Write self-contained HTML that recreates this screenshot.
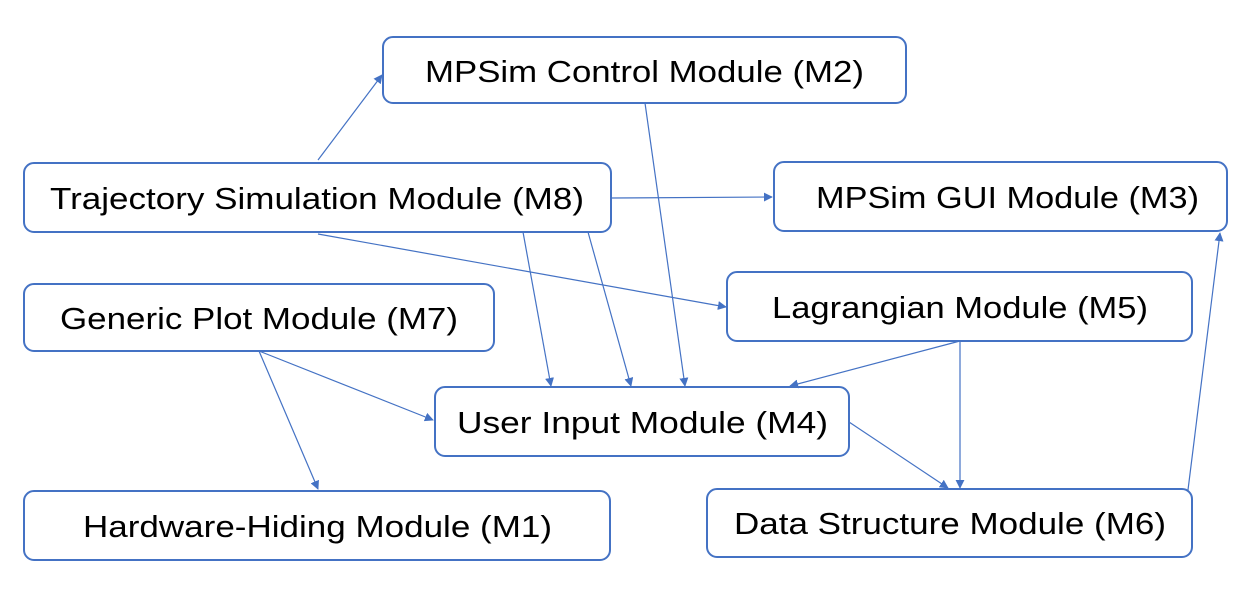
<!DOCTYPE html>
<html><head><meta charset="utf-8"><style>
html,body{margin:0;padding:0;background:#fff;}
svg{display:block;}
text{font-family:"Liberation Sans",sans-serif;font-size:31px;fill:#000;}
</style></head><body>
<svg width="1256" height="595" viewBox="0 0 1256 595" xmlns="http://www.w3.org/2000/svg">
<defs>
<marker id="a" viewBox="0 0 10 10" refX="9" refY="5" markerWidth="9" markerHeight="9" orient="auto" markerUnits="userSpaceOnUse">
<path d="M0,0 L10,5 L0,10 z" fill="#4472C4"/>
</marker>
</defs>
<g fill="#fff" stroke="#4472C4" stroke-width="2">
<rect x="383" y="37" width="523" height="66" rx="10"/>
<rect x="24" y="163" width="587" height="69" rx="10"/>
<rect x="774" y="162" width="453" height="69" rx="10"/>
<rect x="24" y="284" width="470" height="67" rx="10"/>
<rect x="727" y="272" width="465" height="69" rx="10"/>
<rect x="435" y="387" width="414" height="69" rx="10"/>
<rect x="24" y="491" width="586" height="69" rx="10"/>
<rect x="707" y="489" width="485" height="68" rx="10"/>
</g>
<g stroke="#4472C4" stroke-width="1.2" fill="none" marker-end="url(#a)">
<line x1="318" y1="160" x2="382" y2="75"/>
<line x1="611" y1="198" x2="772" y2="197"/>
<line x1="318" y1="234" x2="726" y2="307"/>
<line x1="523" y1="232" x2="551" y2="386"/>
<line x1="588" y1="232" x2="631" y2="386"/>
<line x1="645" y1="103" x2="685" y2="386"/>
<line x1="259" y1="351" x2="318" y2="489"/>
<line x1="259" y1="351" x2="433" y2="420"/>
<line x1="960" y1="341" x2="790" y2="386"/>
<line x1="960" y1="341" x2="960" y2="488"/>
<line x1="849" y1="422" x2="948" y2="488"/>
<line x1="1188" y1="490" x2="1220" y2="233"/>
</g>
<g lengthAdjust="spacingAndGlyphs">
<text x="425" y="82" textLength="439" lengthAdjust="spacingAndGlyphs">MPSim Control Module (M2)</text>
<text x="50" y="209" textLength="534" lengthAdjust="spacingAndGlyphs">Trajectory Simulation Module (M8)</text>
<text x="816" y="208" textLength="383" lengthAdjust="spacingAndGlyphs">MPSim GUI Module (M3)</text>
<text x="60" y="329" textLength="398" lengthAdjust="spacingAndGlyphs">Generic Plot Module (M7)</text>
<text x="772" y="318" textLength="376" lengthAdjust="spacingAndGlyphs">Lagrangian Module (M5)</text>
<text x="457" y="433" textLength="371" lengthAdjust="spacingAndGlyphs">User Input Module (M4)</text>
<text x="83" y="537" textLength="469" lengthAdjust="spacingAndGlyphs">Hardware-Hiding Module (M1)</text>
<text x="734" y="534" textLength="432" lengthAdjust="spacingAndGlyphs">Data Structure Module (M6)</text>
</g>
</svg>
</body></html>
